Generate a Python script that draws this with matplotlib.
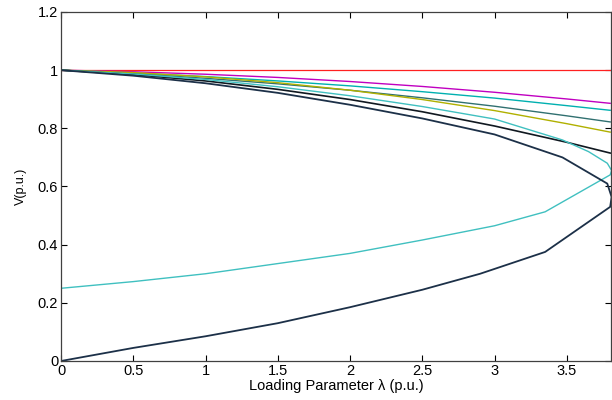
import matplotlib
matplotlib.use("Agg")
import matplotlib.pyplot as plt

plt.rcParams['font.family'] = ['Liberation Sans', 'DejaVu Sans']

# loading parameter samples (p.u.)
lam = [0, 0.5, 1.0, 1.5, 2.0, 2.5, 3.0, 3.5, 3.8]

# bus voltages (p.u.)
v_red = [1, 1, 1, 1, 1, 1, 1, 1, 1]
v_magenta = [1, 0.9945, 0.986, 0.975, 0.961, 0.944, 0.924, 0.901, 0.886]
v_cyan = [1, 0.990, 0.978, 0.963, 0.946, 0.926, 0.904, 0.878, 0.862]
v_teal = [1, 0.988, 0.972, 0.953, 0.931, 0.905, 0.876, 0.843, 0.822]
v_olive = [1, 0.992, 0.977, 0.957, 0.931, 0.899, 0.861, 0.816, 0.787]
v_black = [1, 0.985, 0.963, 0.934, 0.899, 0.857, 0.808, 0.752, 0.715]

# PV curves with nose point (upper branch then lower branch)
lam_nose1 = [0, 0.5, 1.0, 1.5, 2.0, 2.5, 3.0, 3.47, 3.65, 3.78, 3.81, 3.8,
             3.35, 3.0, 2.5, 2.0, 1.5, 1.0, 0.5, 0]
v_nose1 = [1, 0.987, 0.968, 0.943, 0.912, 0.875, 0.832, 0.76, 0.72, 0.68, 0.655, 0.64,
           0.513, 0.465, 0.416, 0.37, 0.335, 0.30, 0.273, 0.25]

lam_nose2 = [0, 0.5, 1.0, 1.5, 2.0, 2.5, 3.0, 3.47, 3.78, 3.81, 3.8,
             3.35, 2.9, 2.5, 2.0, 1.5, 1.0, 0.5, 0]
v_nose2 = [1, 0.981, 0.955, 0.922, 0.881, 0.834, 0.779, 0.70, 0.61, 0.564, 0.53,
           0.375, 0.30, 0.245, 0.185, 0.13, 0.085, 0.045, 0]

fig = plt.figure(figsize=(6.12, 4.0), dpi=100)
ax = fig.add_axes([0.0997, 0.0975, 0.8985, 0.8725])

ax.plot(lam, v_red, color='#ff2020', lw=0.9)
ax.plot(lam, v_magenta, color='#c000c0', lw=1.0)
ax.plot(lam, v_cyan, color='#00b0b0', lw=1.0)
ax.plot(lam, v_teal, color='#307070', lw=1.0)
ax.plot(lam, v_olive, color='#b0b000', lw=1.0)
ax.plot(lam, v_black, color='#101820', lw=1.2)
ax.plot(lam_nose1, v_nose1, color='#40c0c0', lw=1.0)
ax.plot(lam_nose2, v_nose2, color='#1c3048', lw=1.3)

ax.set_xlim(0, 3.805)
ax.set_ylim(0, 1.2)
ax.set_xticks([0, 0.5, 1, 1.5, 2, 2.5, 3, 3.5])
ax.set_xticklabels(['0', '0.5', '1', '1.5', '2', '2.5', '3', '3.5'])
ax.set_yticks([0, 0.2, 0.4, 0.6, 0.8, 1, 1.2])
ax.set_yticklabels(['0', '0.2', '0.4', '0.6', '0.8', '1', '1.2'])
ax.tick_params(direction='in', top=True, right=True, length=4, width=0.8,
               labelsize=10.5, pad=2)
for s in ax.spines.values():
    s.set_color('#404040')
    s.set_linewidth(0.9)

ax.set_xlabel('Loading Parameter λ (p.u.)', fontsize=10.5, labelpad=1)
ax.set_ylabel('V(p.u.)', fontsize=9, labelpad=8)

fig.savefig('out.png', dpi=100)
